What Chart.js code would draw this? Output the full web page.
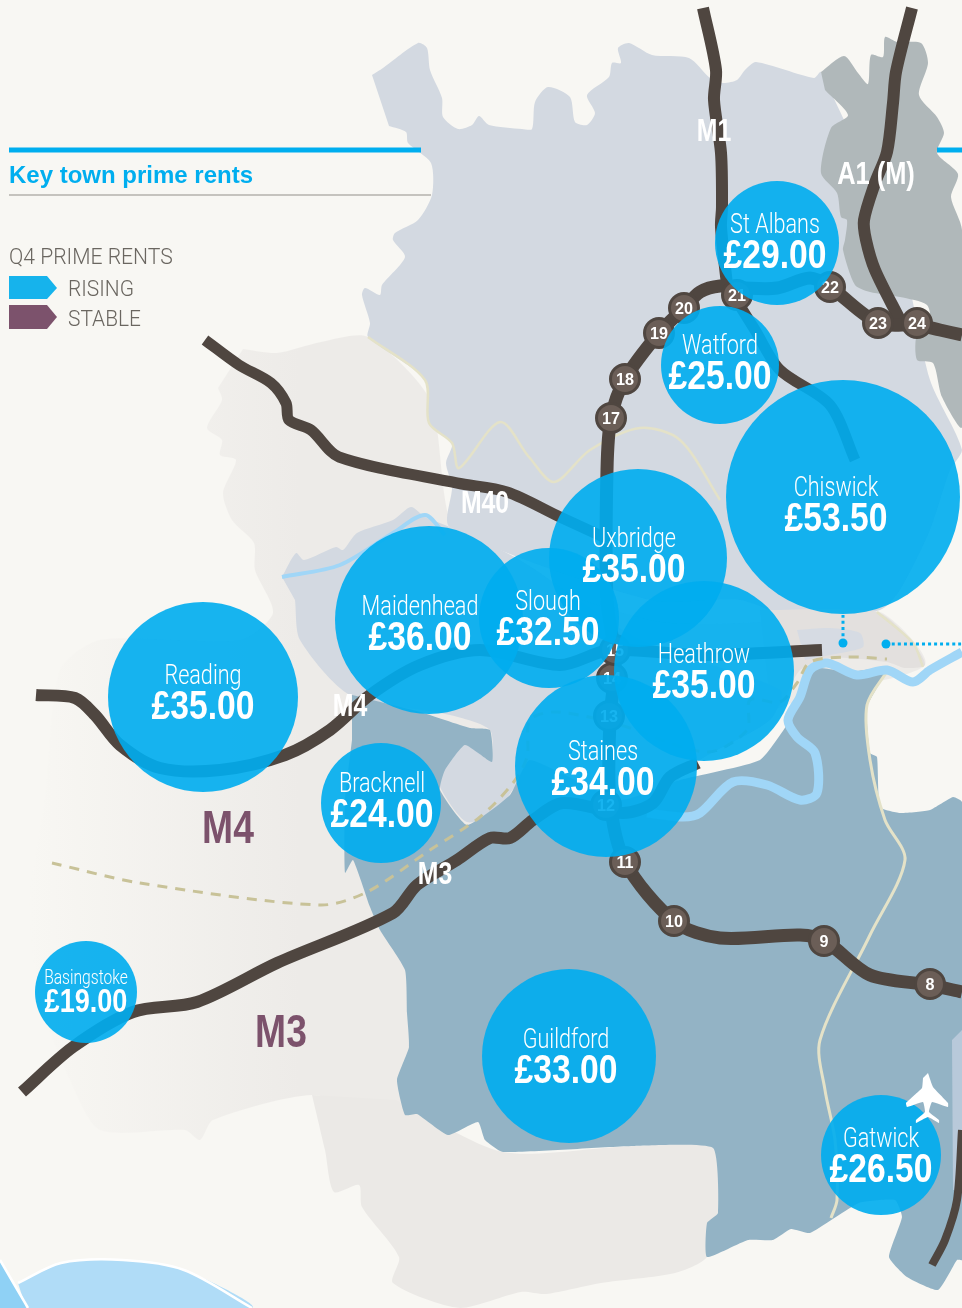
<!DOCTYPE html>
<html>
<head>
<meta charset="utf-8">
<title>Key town prime rents</title>
<script src="https://cdn.jsdelivr.net/npm/chart.js@4"></script>
<style>
  body { margin: 0; background: #f8f7f3; }
  canvas { display: block; }
</style>
</head>
<body>
<canvas id="myChart" width="962" height="1308"></canvas>
<script>
// Towns and rents
const townNames = ['St Albans', 'Watford', 'Chiswick', 'Uxbridge', 'Slough', 'Maidenhead', 'Heathrow', 'Reading', 'Staines', 'Bracknell', 'Basingstoke', 'Guildford', 'Gatwick'];
const townRents = ['£29.00', '£25.00', '£53.50', '£35.00', '£32.50', '£36.00', '£35.00', '£35.00', '£34.00', '£24.00', '£19.00', '£33.00', '£26.50'];
const townX = [777, 720, 843, 638, 549, 429, 704, 203, 606, 381, 86, 569, 881];
const townY = [243, 365, 497, 558, 618, 620, 671, 697, 766, 803, 992, 1056, 1155];
const townR = [62, 59, 117, 89, 70, 94, 90, 95, 91, 60, 51, 87, 60];
const townLabelX = [775, 720, 836, 634, 548, 420, 704, 203, 603, 382, 86, 566, 881];
const townLabelY = [224, 345, 487, 538, 601, 606, 654, 675, 751, 783, 977, 1039, 1138];

// M25 junctions
const junctionNames = ['8', '9', '10', '11', '12', '13', '14', '15', '17', '18', '19', '20', '21', '22', '23', '24'];
const junctionX = [930, 824, 674, 625, 606, 609, 612, 615, 611, 625, 659, 684, 737, 830, 878, 917];
const junctionY = [984, 941, 921, 862, 805, 716, 678, 650, 418, 379, 333, 308, 295, 287, 323, 323];

// Map shapes as [x, y] in map units
const warmLand = [[243,349],[277,353],[321,342],[368,337],[430,400],[460,540],[650,620],[800,620],[880,612],[925,665],[800,700],[500,830],[405,1115],[312,1095],[213,1120],[200,1140],[185,1130],[100,1130],[70,1080],[40,1000],[30,900],[45,800],[60,670],[100,640],[240,640],[273,613],[255,570],[254,543],[232,520],[223,493],[236,460],[220,455],[222,440],[207,428],[222,400],[218,388]];
const warmSouth = [[312,1095],[325,1150],[334,1192],[359,1185],[362,1207],[399,1257],[393,1283],[460,1308],[521,1292],[546,1294],[601,1283],[675,1273],[707,1257],[718,1213],[713,1148],[633,1146],[503,1152],[396,1100]];
const paleNorth = [[372,75],[383,68],[418,43],[427,48],[430,70],[442,98],[443,117],[458,129],[472,125],[479,116],[489,125],[522,129],[532,129],[535,102],[548,87],[570,97],[575,122],[587,125],[595,113],[587,95],[609,77],[612,63],[621,63],[618,48],[629,43],[652,55],[689,58],[710,78],[723,83],[737,80],[745,70],[756,62],[814,78],[821,72],[900,250],[930,380],[962,450],[950,470],[930,530],[900,590],[880,610],[800,620],[740,600],[650,600],[450,527],[452,487],[446,463],[452,443],[429,423],[425,380],[368,337],[370,323],[362,295],[365,288],[380,295],[382,285],[405,257],[393,240],[395,233],[418,220],[432,195],[431,163],[408,143],[406,132],[389,126]];
const paleCentre = [[282,577],[296,553],[304,560],[336,547],[343,550],[357,533],[393,520],[411,507],[425,517],[450,527],[520,560],[640,640],[780,690],[770,720],[700,760],[650,800],[517,787],[500,810],[467,822],[440,787],[442,770],[465,745],[490,760],[490,730],[450,715],[350,695],[300,640],[295,600]];
const darkNorth = [[821,72],[844,56],[858,73],[868,84],[871,55],[883,57],[885,37],[897,42],[921,43],[928,63],[919,95],[937,117],[944,133],[937,153],[958,174],[951,197],[962,230],[962,427],[942,397],[933,363],[917,360],[917,333],[930,325],[927,305],[900,297],[870,292],[855,285],[843,250],[845,240],[847,220],[841,217],[837,193],[821,173],[831,128],[848,115],[825,90]];
const blueSouth = [[352,695],[420,712],[470,728],[490,730],[492,762],[465,745],[445,770],[440,790],[467,825],[510,795],[530,760],[620,800],[680,780],[760,760],[790,720],[800,695],[815,668],[850,672],[887,668],[867,707],[870,753],[877,757],[880,807],[900,813],[930,810],[953,797],[962,802],[962,1260],[957,1260],[938,1290],[907,1277],[889,1257],[902,1217],[895,1200],[859,1203],[810,1233],[791,1229],[773,1240],[748,1240],[707,1257],[707,1223],[718,1213],[713,1148],[633,1146],[503,1152],[485,1140],[478,1122],[448,1135],[417,1114],[405,1115],[397,1080],[409,1047],[407,1013],[405,970],[380,930],[370,907],[353,860],[345,873],[345,800],[352,740]];
const sliver = [[952,1040],[962,1030],[962,1190],[953,1190]];
const cityWarm = [[760,610],[877,612],[913,643],[925,665],[905,668],[887,662],[830,658],[800,670],[780,705],[770,700]];
const cityPale = [[797,630],[830,628],[860,633],[863,647],[830,655],[805,660]];
const pond = [[18,1283],[61,1263],[123,1260],[184,1270],[252,1308],[26,1308]];
const pondEdge = [[0,1260],[0,1308],[28,1308]];
const plane = [[928,1073],[933,1087],[948,1103],[948,1107],[932,1102],[929,1112],[939,1120],[939,1123],[928,1117],[916,1123],[916,1120],[925,1112],[923,1102],[907,1107],[906,1103],[922,1088],[923,1078]];

// Roads and rivers
const m25 = [[962,335],[940,330],[917,325],[878,323],[830,287],[810,278],[777,288],[745,288],[720,286],[700,292],[684,308],[659,333],[625,379],[611,418],[607,470],[607,600],[615,660],[610,720],[610,800],[625,862],[675,922],[720,938],[800,935],[825,941],[870,975],[930,985],[962,992]];
const m1 = [[703,8],[716,70],[714,100],[721,153],[722,207],[721,227],[727,285]];
const a1m = [[912,8],[896,72],[893,103],[887,152],[875,183],[864,220],[866,240],[875,270],[900,320]];
const m4 = [[36,695],[75,698],[95,715],[120,745],[160,768],[220,770],[285,755],[330,730],[370,695],[420,665],[480,650],[560,665],[610,650],[700,655],[822,650]];
const m40 = [[205,340],[239,365],[271,383],[286,403],[289,420],[311,430],[339,457],[457,483],[507,492],[560,517],[610,540]];
const m3 = [[22,1092],[73,1047],[133,1012],[197,1002],[277,963],[393,913],[417,885],[457,860],[490,838],[510,838],[533,820],[563,803],[623,813],[653,803],[670,777],[698,763]];
const m23 = [[962,1130],[957,1200],[945,1240],[932,1265]];
const watfordLink = [[730,290],[755,330],[780,370],[830,405],[855,460]];
const thames = [[962,652],[930,670],[913,682],[887,670],[857,675],[827,663],[810,670],[800,697],[788,720],[797,737],[815,753],[817,793],[800,800],[767,785],[733,782],[700,813],[683,817],[647,813]];
const riverWest = [[282,577],[340,565],[393,533],[425,515],[445,535]];
const boundaryLine = [[52,863],[140,883],[320,905],[367,892],[430,850],[480,817],[513,783],[527,757],[530,720],[557,712],[620,725],[707,752],[747,730],[750,700],[780,702],[797,683],[810,662],[847,657],[887,659]];
const creamNorth = [[368,337],[425,380],[429,423],[452,443],[459,468],[500,422],[529,457],[554,482],[590,450],[640,428],[680,440],[720,500]];
const creamEast = [[877,612],[913,643],[923,667]];
const creamSouth = [[888,670],[867,705],[870,760],[885,820],[905,860],[870,935],[820,1040],[825,1090],[835,1140],[837,1200],[831,1218]];
const calloutA = [[843,615],[843,643]];
const calloutB = [[886,644],[962,644]];
const calloutDots = [[843,643],[886,644]];
const pondLine = [[0,1260],[28,1308]];

// Header and legend
const ruleTop = [[9,150],[421,150]];
const ruleTopRight = [[937,150],[962,150]];
const ruleGrey = [[9,195],[431,195]];
const arrowRising = [[9,276],[47,276],[57,288],[47,299],[9,299]];
const arrowStable = [[9,305],[47,305],[57,317],[47,329],[9,329]];

const toPoints = list => list.map(p => ({ x: p[0], y: p[1] }));

let layer = 100;
const area = (shape, color, tension = 0.25) => ({
    type: 'line', data: toPoints(shape), fill: 'shape', backgroundColor: color,
    borderWidth: 0, pointRadius: 0, tension: tension, order: layer--
});
const stroke = (shape, color, width, dash = []) => ({
    type: 'line', data: toPoints(shape), fill: false, borderColor: color, borderWidth: width,
    borderDash: dash, pointRadius: 0, tension: 0.3, borderJoinStyle: 'round', order: layer--
});

const ctx = document.getElementById('myChart').getContext('2d');

// land fades out towards the left of the page
const landFade = ctx.createLinearGradient(30, 0, 300, 0);
landFade.addColorStop(0, '#f8f7f3');
landFade.addColorStop(1, '#edebe8');

const ROAD = '#4f4640';
const RIVER = '#a0d6f7';
const CREAM = '#e4e2c8';
const datasets = [
    area(warmLand, landFade),
    area(warmSouth, '#ebe9e6'),
    area(paleNorth, '#d3d9e1'),
    area(cityWarm, '#e3e0de'),
    area(cityPale, '#d6dbe3'),
    area(darkNorth, '#b0b8ba'),
    area(paleCentre, '#d3d9e1'),
    area(blueSouth, '#93b3c5', 0.15),
    area(sliver, '#b8c9da', 0),
    area(pondEdge, '#8fd1f5', 0),
    area(pond, '#b0dcf7'),
    stroke(pond.slice(0, 5), '#ffffff', 2.5),
    stroke(pondLine, '#ffffff', 2.5),
    stroke(creamNorth, CREAM, 2.5),
    stroke(creamEast, CREAM, 2.5),
    stroke(creamSouth, CREAM, 3),
    stroke(riverWest, RIVER, 4),
    stroke(thames, RIVER, 9),
    stroke(boundaryLine, '#c8c298', 3, [10, 8]),
    stroke(m1, ROAD, 12),
    stroke(a1m, ROAD, 12),
    stroke(watfordLink, ROAD, 11),
    stroke(m40, ROAD, 11),
    stroke(m4, ROAD, 12),
    stroke(m3, ROAD, 12),
    stroke(m23, ROAD, 8),
    stroke(m25, ROAD, 13)
];

const junctionIndex = datasets.length;
datasets.push({
    type: 'bubble',
    data: junctionNames.map((n, i) => ({ x: junctionX[i], y: junctionY[i], r: 14.5 })),
    backgroundColor: '#6b5e57', borderColor: ROAD, borderWidth: 3, order: layer--
});
datasets.push(stroke(calloutA, '#00aeef', 3, [3, 3]));
datasets.push(stroke(calloutB, '#00aeef', 3, [3, 3]));
datasets.push({
    type: 'bubble', data: calloutDots.map(p => ({ x: p[0], y: p[1], r: 4.5 })),
    backgroundColor: '#00aeef', borderWidth: 0, order: layer--
});
datasets.push({
    type: 'bubble',
    data: townNames.map((n, i) => ({ x: townX[i], y: townY[i], r: townR[i] })),
    backgroundColor: 'rgba(0, 173, 238, 0.91)', borderWidth: 0, order: layer--
});
datasets.push(area(plane, '#ffffff', 0.1));
datasets.push(stroke(ruleTop, '#00aeef', 5));
datasets.push(stroke(ruleTopRight, '#00aeef', 5));
datasets.push(stroke(ruleGrey, '#b5b2ac', 1.5));
datasets.push(area(arrowRising, '#16b3ec', 0));
datasets.push(area(arrowStable, '#7c526c', 0));

// Text drawn narrower than the font, like the condensed face of the original
function label(chart, text, x, y, font, color, squeeze = 1, align = 'center') {
    const c = chart.ctx;
    c.save();
    c.translate(chart.scales.x.getPixelForValue(x), chart.scales.y.getPixelForValue(y));
    c.scale(squeeze, 1);
    c.font = font;
    c.fillStyle = color;
    c.textAlign = align;
    c.textBaseline = 'middle';
    c.fillText(text, 0, 0);
    c.restore();
}

const LIGHT = '"Roboto", "Liberation Sans", sans-serif';
const BOLD = '"Liberation Sans", sans-serif';

const mapText = {
    id: 'mapText',
    afterDatasetDraw(chart, args) {
        // junction numbers sit under the translucent town circles
        if (args.index !== junctionIndex) return;
        junctionNames.forEach((n, i) => {
            label(chart, n, junctionX[i], junctionY[i] + 1, 'bold 17px ' + BOLD, '#ffffff', 0.95);
        });
    },
    afterDatasetsDraw(chart) {
        townNames.forEach((name, i) => {
            const small = name === 'Basingstoke';
            label(chart, name, townLabelX[i], townLabelY[i] + 2, '300 ' + (small ? 20 : 27) + 'px ' + LIGHT, '#ffffff', small ? 0.78 : 0.8);
            label(chart, townRents[i], townLabelX[i], townLabelY[i] + (small ? 26 : 33), 'bold ' + (small ? 33 : 41) + 'px ' + BOLD, '#ffffff', 0.82);
        });

        label(chart, 'M1', 714, 132, 'bold 31px ' + BOLD, '#ffffff', 0.8);
        label(chart, 'A1 (M)', 876, 175, 'bold 31px ' + BOLD, '#ffffff', 0.82);
        label(chart, 'M40', 485, 504, 'bold 31px ' + BOLD, '#ffffff', 0.8);
        label(chart, 'M4', 350, 707, 'bold 31px ' + BOLD, '#ffffff', 0.8);
        label(chart, 'M3', 435, 875, 'bold 31px ' + BOLD, '#ffffff', 0.8);
        label(chart, 'M4', 228, 830, 'bold 46px ' + BOLD, '#7c526c', 0.81);
        label(chart, 'M3', 281, 1034, 'bold 46px ' + BOLD, '#7c526c', 0.81);

        label(chart, 'Key town prime rents', 9, 176, 'bold 24px ' + BOLD, '#00aeef', 1, 'left');
        label(chart, 'Q4 PRIME RENTS', 9, 258, '300 22px ' + LIGHT, '#6a6660', 0.96, 'left');
        label(chart, 'RISING', 68, 290, '300 22px ' + LIGHT, '#6a6660', 0.95, 'left');
        label(chart, 'STABLE', 68, 320, '300 22px ' + LIGHT, '#6a6660', 0.95, 'left');
    }
};

new Chart(ctx, {
    type: 'bubble',
    data: { datasets: datasets },
    options: {
        responsive: false,
        animation: false,
        events: [],
        layout: { padding: 0, autoPadding: false },
        plugins: {
            legend: { display: false },
            tooltip: { enabled: false }
        },
        scales: {
            x: { type: 'linear', display: false, min: 0, max: 962 },
            y: { type: 'linear', display: false, min: 0, max: 1308, reverse: true }
        }
    },
    plugins: [mapText]
});
</script>
</body>
</html>
